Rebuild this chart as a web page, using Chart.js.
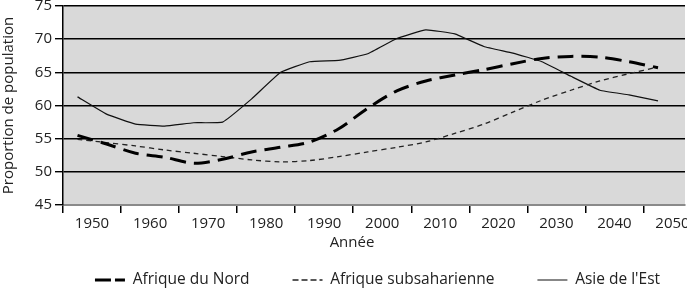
<!DOCTYPE html>
<html lang="fr">
<head>
<meta charset="utf-8">
<title>Proportion de population</title>
<script src="https://cdn.jsdelivr.net/npm/chart.js@4/dist/chart.umd.min.js"></script>
<style>
  html, body { margin: 0; padding: 0; background: #fff; }
  #wrap { width: 687px; height: 291px; position: relative; }
</style>
</head>
<body>
<div id="wrap"><canvas id="chart" width="687" height="291"></canvas></div>
<script>
// Data (5-year steps)
const years = [1950, 1955, 1960, 1965, 1970, 1975, 1980, 1985, 1990, 1995, 2000,
               2005, 2010, 2015, 2020, 2025, 2030, 2035, 2040, 2045, 2050];
const afriqueNord = [55.5, 54.2, 52.8, 52.2, 51.3, 51.9, 53.0, 53.7, 54.5, 56.5, 59.6,
                     62.2, 63.7, 64.6, 65.4, 66.3, 67.1, 67.4, 67.3, 66.6, 65.7];
const afriqueSub = [54.9, 54.4, 53.9, 53.3, 52.8, 52.3, 51.8, 51.5, 51.7, 52.3, 53.0,
                    53.7, 54.5, 55.8, 57.2, 59.0, 60.8, 62.3, 63.7, 64.8, 65.8];
const asieEst = [61.3, 58.7, 57.2, 56.9, 57.4, 57.5, 61.0, 65.0, 66.6, 66.8, 67.8,
                 70.1, 71.4, 70.8, 68.9, 67.9, 66.6, 64.4, 62.3, 61.6, 60.7];
const tickYears = [1950, 1960, 1970, 1980, 1990, 2000, 2010, 2020, 2030, 2040, 2050];

const FONT = "'Open Sans', sans-serif";

function toPoints(values) {
    return years.map((y, i) => ({ x: y, y: values[i] }));
}

// grey plot background, x axis title, legend nudge
const plotBg = {
    id: 'plotBg',
    afterLayout(chart) {
        // legend sits right of the canvas centre in the original
        chart.legend.left += 35;
        chart.legend.right += 35;
    },
    beforeDraw(chart) {
        const { ctx, chartArea: a } = chart;
        ctx.save();
        ctx.fillStyle = '#d9d9d9';
        ctx.fillRect(a.left, a.top, a.right - a.left, a.bottom - a.top);
        ctx.restore();
    },
    afterDraw(chart) {
        const ctx = chart.ctx;
        ctx.save();
        ctx.font = '15px ' + FONT;
        ctx.fillStyle = '#222';
        ctx.textAlign = 'center';
        ctx.textBaseline = 'middle';
        ctx.fillText('Année', 352, 243);
        ctx.restore();
    }
};

const ctx = document.getElementById('chart').getContext('2d');
new Chart(ctx, {
    type: 'line',
    data: {
        datasets: [
            {
                label: 'Afrique du Nord',
                data: toPoints(afriqueNord),
                borderColor: '#000',
                backgroundColor: '#000',
                borderWidth: 3,
                borderDash: [16, 8],
                tension: 0.3
            },
            {
                label: 'Afrique subsaharienne',
                data: toPoints(afriqueSub),
                borderColor: '#222',
                backgroundColor: '#222',
                borderWidth: 1.3,
                borderDash: [5, 4],
                tension: 0.3
            },
            {
                label: "Asie de l'Est",
                data: toPoints(asieEst),
                borderColor: '#111',
                backgroundColor: '#111',
                borderWidth: 1.2,
                tension: 0.1
            }
        ]
    },
    options: {
        responsive: false,
        animation: false,
        devicePixelRatio: 1,
        elements: { point: { radius: 0 } },
        layout: { padding: { top: 0, right: 2, left: 0, bottom: -6.75 } },
        plugins: {
            tooltip: { enabled: false },
            legend: {
                position: 'bottom',
                labels: {
                    boxWidth: 30,
                    boxHeight: 0,
                    padding: 43,
                    color: '#222',
                    font: { family: FONT, size: 15.5 }
                }
            }
        },
        scales: {
            x: {
                type: 'linear',
                min: 1947.5,
                max: 2054.65,
                afterBuildTicks(scale) {
                    scale.ticks = tickYears.map(y => ({ value: y - 2.5 }));
                },
                afterFit(scale) { scale.height = 24.25; },
                ticks: {
                    callback: v => String(v + 2.5),
                    labelOffset: 29,
                    maxRotation: 0,
                    autoSkip: false,
                    padding: 2,
                    color: '#222',
                    font: { family: FONT, size: 15 }
                },
                grid: { drawOnChartArea: false, tickLength: 8, color: '#000', lineWidth: 1.5 },
                border: { color: '#8a8a8a', width: 2 }
            },
            y: {
                min: 45,
                max: 75,
                afterFit(scale) {
                    scale.width = 63;
                    scale.paddingTop = 6;
                    scale.paddingBottom = 0;
                },
                ticks: {
                    stepSize: 5,
                    autoSkip: false,
                    padding: 3,
                    color: '#222',
                    font: { family: FONT, size: 15 }
                },
                grid: { color: '#000', lineWidth: 1.4, tickLength: 8 },
                border: { color: '#000', width: 1.5 },
                title: {
                    display: true,
                    text: 'Proportion de population',
                    color: '#222',
                    padding: 0,
                    font: { family: FONT, size: 15 }
                }
            }
        }
    },
    plugins: [plotBg]
});
</script>
</body>
</html>
